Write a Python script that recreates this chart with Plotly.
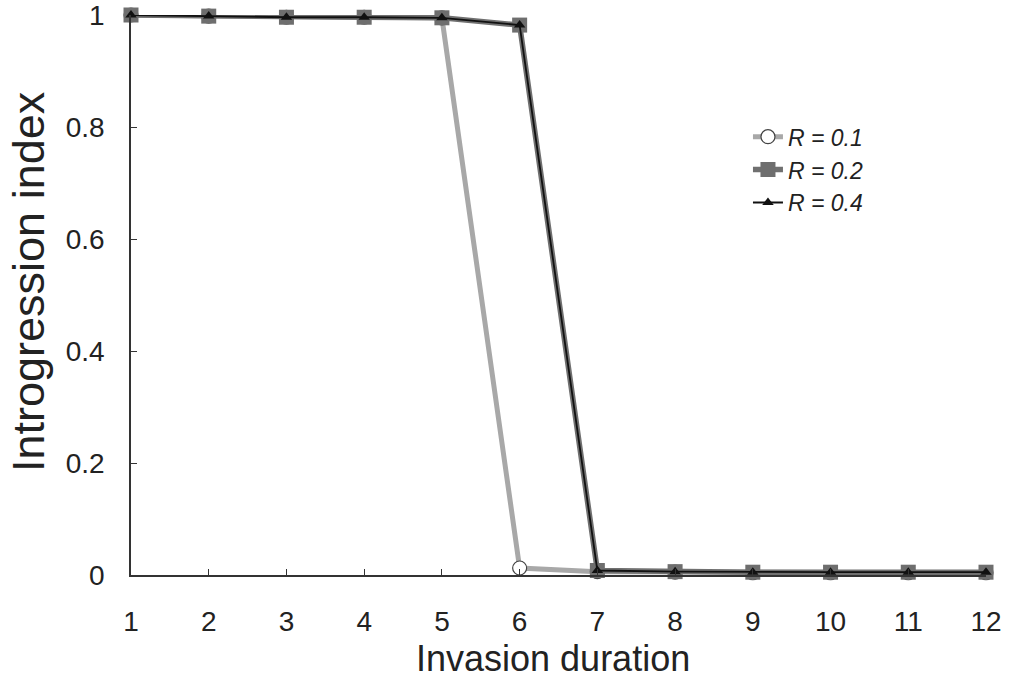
import plotly.graph_objects as go

durations = [1, 2, 3, 4, 5, 6, 7, 8, 9, 10, 11, 12]
r01 = [1.0, 0.998, 0.996, 0.996, 0.995, 0.0125, 0.006, 0.005, 0.004, 0.004, 0.004, 0.004]
r02 = [1.0, 0.998, 0.996, 0.996, 0.995, 0.982, 0.008, 0.006, 0.005, 0.005, 0.005, 0.005]
r04 = [1.0, 0.998, 0.996, 0.996, 0.995, 0.982, 0.008, 0.006, 0.005, 0.005, 0.005, 0.005]
names = ["<i>R = 0.1</i>", "<i>R = 0.2</i>", "<i>R = 0.4</i>"]
yticks = [0, 0.2, 0.4, 0.6, 0.8, 1]
yticktext = ["0", "0.2", "0.4", "0.6", "0.8", "1"]
xtitle = "Invasion duration"
ytitle = "Introgression index"

FONT = "Liberation Sans, Arial, sans-serif"

fig = go.Figure()
fig.add_trace(go.Scatter(
    x=durations, y=r01, name=names[0], mode="lines+markers",
    line=dict(color="#a8a8a8", width=5),
    marker=dict(symbol="circle", size=14, color="white", line=dict(color="#444444", width=1.2)),
    cliponaxis=False))
fig.add_trace(go.Scatter(
    x=durations, y=r02, name=names[1], mode="lines+markers",
    line=dict(color="#707070", width=5.5),
    marker=dict(symbol="square", size=15, color="#6e6e6e"),
    cliponaxis=False))
fig.add_trace(go.Scatter(
    x=durations, y=r04, name=names[2], mode="lines+markers",
    line=dict(color="#111111", width=1.8),
    marker=dict(symbol="triangle-up", size=10, color="#111111"),
    cliponaxis=False))

fig.update_layout(
    width=1011, height=678,
    margin=dict(l=131, r=25, t=15, b=103),
    paper_bgcolor="white", plot_bgcolor="white",
    font=dict(family=FONT, color="#222222"),
    showlegend=True,
    legend=dict(x=0.7216, y=0.821, xanchor="left", yanchor="top",
                font=dict(size=23, color="#222222"), bgcolor="rgba(0,0,0,0)",
                tracegroupgap=0, itemwidth=30),
    xaxis=dict(range=[1, 12], tickvals=durations, ticks="inside", ticklen=6,
               tickcolor="#333333", showline=True, linecolor="#333333", linewidth=1.5,
               showgrid=False, zeroline=False, tickfont=dict(size=28),
               ticklabelstandoff=21, automargin=False, ticklabeloverflow="allow"),
    yaxis=dict(range=[0, 1], tickvals=yticks, ticktext=yticktext, ticks="inside", ticklen=6,
               tickcolor="#333333", showline=True, linecolor="#333333", linewidth=1.5,
               showgrid=False, zeroline=False, tickfont=dict(size=28),
               ticklabelstandoff=19, automargin=False, ticklabeloverflow="allow"),
    annotations=[
        dict(text=xtitle, xref="paper", yref="paper", x=(553 - 131) / 855, y=-(658 - 575) / 560,
             xanchor="center", yanchor="middle", showarrow=False, font=dict(size=36, color="#222222")),
        dict(text=ytitle, xref="paper", yref="paper", x=-(131 - 28) / 855, y=(575 - 282) / 560,
             xanchor="center", yanchor="middle", showarrow=False, textangle=-90,
             font=dict(size=45, color="#222222")),
    ],
)
fig.write_html("out.html", config={"displayModeBar": False},
               post_script="document.body.style.margin='0';")
